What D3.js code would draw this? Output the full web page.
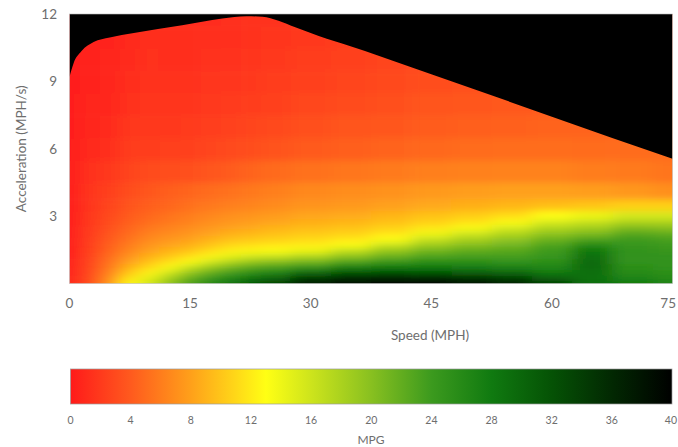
<!DOCTYPE html>
<html>
<head>
<meta charset="utf-8">
<script src="https://cdn.jsdelivr.net/npm/d3@7"></script>
<style>
    body { margin: 0; background: #fff; }
    svg { display: block; font-family: Lato, "Open Sans", sans-serif; }
    .tick-label { fill: #6e6e6e; }
</style>
</head>
<body>
<svg width="678" height="447"></svg>
<script>
// grid
var speeds = [0, 2.5, 5, 7.5, 10, 12.5, 15, 17.5, 20, 22.5, 25, 30, 35, 40, 45, 50, 55, 60, 65, 70, 75];
var accels = [0, 0.25, 0.5, 0.75, 1, 1.25, 1.5, 1.75, 2, 2.25, 2.5, 2.75, 3, 3.5, 4, 5, 6, 7, 8, 9, 10, 11, 12];

// mpg per speed column, one value per acceleration level
var mpgBySpeed = [
    [1, 0.8, 0.6, 0.5, 0.4, 0.3, 0.3, 0.2, 0.2, 0.2, 0.1, 0.1, 0.1, 0, 0, 0, 0, 0, 0, 0, 0, 0, 0],
    [3, 2.8, 2.7, 2.6, 2.5, 2.4, 2.3, 2.2, 2.1, 2, 2, 1.9, 1.8, 1.7, 1.6, 1.4, 1.1, 0.9, 0.7, 0.6, 0.5, 0.4, 0.4],
    [7.5, 6.8, 6.2, 5.7, 5.3, 4.9, 4.5, 4.2, 3.9, 3.6, 3.4, 3.2, 3, 2.6, 2.3, 1.8, 1.3, 1.1, 0.9, 0.8, 0.7, 0.6, 0.6],
    [13, 11.6, 10.2, 9, 8, 7.2, 6.5, 5.9, 5.4, 5, 4.7, 4.4, 4.1, 3.6, 3.2, 2.6, 2.1, 1.8, 1.5, 1.3, 1.1, 1, 0.9],
    [16, 14.8, 12.6, 11, 9.8, 8.8, 8, 7.3, 6.7, 6.2, 5.7, 5.2, 4.8, 4.2, 3.8, 3.1, 2.2, 1.9, 1.7, 1.5, 1.4, 1.3, 1.2],
    [20, 18.5, 16, 13.2, 11.3, 10, 9, 8.1, 7.4, 6.8, 6.3, 5.8, 5.4, 4.7, 4.2, 3.2, 2.3, 1.9, 1.7, 1.5, 1.3, 1.2, 1.1],
    [23.5, 22, 19.5, 16.5, 13, 11.2, 9.8, 8.8, 8, 7.4, 6.9, 6.4, 6, 5.3, 4.6, 3.4, 2.4, 2, 1.7, 1.5, 1.3, 1.2, 1.1],
    [26.5, 24.5, 22, 19, 15.5, 12.6, 11, 9.8, 8.9, 8.1, 7.5, 7, 6.5, 5.7, 5, 3.7, 2.6, 2.2, 1.8, 1.6, 1.4, 1.25, 1.15],
    [29, 26.5, 24, 21, 17.5, 14.3, 12.2, 10.8, 9.7, 8.8, 8.1, 7.5, 7, 6.1, 5.3, 4, 2.9, 2.4, 2, 1.7, 1.5, 1.3, 1.2],
    [31.5, 28.5, 25.5, 22.5, 19, 15.5, 12.6, 11.2, 10.1, 9.2, 8.5, 7.9, 7.3, 6.4, 5.7, 4.5, 3.2, 2.6, 2.2, 1.9, 1.6, 1.45, 1.35],
    [34, 30.5, 27, 23.5, 20, 16, 13, 11.6, 10.5, 9.7, 9, 8.3, 7.7, 6.8, 6.1, 4.9, 3.5, 2.9, 2.4, 2.1, 1.8, 1.6, 1.5],
    [37.5, 35, 30, 25, 21, 17.5, 13.8, 12, 11, 10.2, 9.5, 8.8, 8.3, 7.3, 6.6, 5.3, 4, 3.3, 2.8, 2.4, 2.1, 1.9, 1.8],
    [39, 37, 32, 27.5, 23, 19.5, 16.5, 13, 11.6, 10.7, 9.9, 9.2, 8.6, 7.6, 6.9, 5.6, 4.3, 3.6, 3.1, 2.7, 2.4, 2.2, 2.1],
    [39.5, 37.5, 32.5, 28, 24.5, 21.5, 19, 16, 13, 11.6, 10.6, 9.8, 9.1, 8, 7.2, 5.8, 4.5, 3.8, 3.3, 2.9, 2.6, 2.4, 2.3],
    [39.5, 37, 32, 28, 25.5, 23, 21, 18.5, 16.3, 13.8, 11.7, 10.6, 9.8, 8.5, 7.6, 6.1, 4.8, 4.1, 3.6, 3.2, 2.9, 2.7, 2.6],
    [38.5, 36, 31, 27.5, 25.5, 23.5, 22, 20, 18, 15.8, 13.3, 11.5, 10.4, 8.8, 7.8, 6.2, 5, 4.3, 3.8, 3.4, 3.1, 2.9, 2.8],
    [37, 34.5, 30, 27, 25, 23.5, 22.5, 21, 19.5, 17.5, 15.5, 13.2, 11.2, 9.2, 8, 6.3, 5.1, 4.4, 3.9, 3.5, 3.2, 3, 2.9],
    [34, 31, 28, 26.5, 25.5, 24.5, 24, 23, 21.5, 19.5, 17.5, 15.5, 13, 9.6, 8, 6.3, 5.1, 4.5, 4, 3.6, 3.3, 3.1, 3],
    [29, 29, 29, 29.5, 29.5, 29, 28, 26, 23, 20.5, 18.5, 16.5, 14, 10, 7.8, 6, 5, 4.5, 4, 3.6, 3.3, 3.1, 3],
    [28, 27, 26, 25.5, 25, 25, 25, 24.5, 24, 22.5, 20.5, 18, 15.5, 10.5, 7.5, 5.8, 5, 4.5, 4, 3.6, 3.3, 3.1, 3],
    [27, 26, 25.5, 25, 25, 25, 24.5, 24, 23.5, 22, 20, 18, 15.5, 10.5, 7, 5.5, 5, 4.5, 4, 3.6, 3.3, 3.1, 3]
];

// top edge of the operating region (max acceleration at each speed)
var envSpeed = [0, 0.5, 1.5, 3, 5, 8, 14, 19, 22, 24, 26, 28, 30, 32, 34, 45, 60, 75];
var envAccel = [9.2, 9.8, 10.35, 10.75, 10.95, 11.15, 11.5, 11.8, 11.9, 11.88, 11.7, 11.42, 11.15, 10.9, 10.68, 9.32, 7.43, 5.55];

var colorStops = [0, 4, 8, 11, 13, 16, 20, 24, 28, 32, 36, 40];
var colorValues = ["#ff1a1a", "#ff5a1e", "#ffa01a", "#ffd818", "#ffff14", "#cde41c",
    "#88c020", "#3c9a1e", "#107a10", "#055205", "#022802", "#000000"];

var xTicks = [0, 15, 30, 45, 60, 75];
var yTicks = [3, 6, 9, 12];
var mpgTicks = [0, 4, 8, 12, 16, 20, 24, 28, 32, 36, 40];

var svg = d3.select("svg");
var x = d3.scaleLinear().domain([0, 75]).range([69.5, 672.5]);
var y = d3.scaleLinear().domain([0, 12]).range([283.5, 14]);
var color = d3.scaleLinear().domain(colorStops).range(colorValues).clamp(true);

var defs = svg.append("defs");
defs.append("clipPath").attr("id", "plot-clip")
    .append("rect")
    .attr("x", x(0)).attr("y", y(12))
    .attr("width", x(75) - x(0)).attr("height", y(0) - y(12));

defs.append("filter").attr("id", "smooth")
    .attr("filterUnits", "userSpaceOnUse")
    .attr("x", 0).attr("y", 0).attr("width", 678).attr("height", 447)
    .append("feGaussianBlur").attr("stdDeviation", "9 3.5");

// cell edges halfway between grid points, outer cells pushed past the plot
function edges(vals, pad) {
    return vals.map(function (v, i) {
        var lo = i === 0 ? v - pad : (vals[i - 1] + v) / 2;
        var hi = i === vals.length - 1 ? v + pad : (v + vals[i + 1]) / 2;
        return [lo, hi];
    });
}

var xEdges = edges(speeds, 6);
var yEdges = edges(accels, 1);
var cells = [];
mpgBySpeed.forEach(function (col, i) {
    col.forEach(function (v, j) {
        cells.push({ xs: xEdges[i], ys: yEdges[j], mpg: v });
    });
});

var plot = svg.append("g").attr("clip-path", "url(#plot-clip)");

plot.append("g")
    .attr("filter", "url(#smooth)")
    .selectAll("rect")
    .data(cells)
    .enter().append("rect")
    .attr("x", function (d) { return x(d.xs[0]); })
    .attr("y", function (d) { return y(d.ys[1]); })
    .attr("width", function (d) { return x(d.xs[1]) - x(d.xs[0]) + 0.5; })
    .attr("height", function (d) { return y(d.ys[0]) - y(d.ys[1]) + 0.5; })
    .attr("fill", function (d) { return color(d.mpg); });

var envelope = d3.area()
    .x(function (d) { return x(d[0]); })
    .y0(y(12) - 2)
    .y1(function (d) { return y(d[1]); })
    .curve(d3.curveMonotoneX);

plot.append("path")
    .datum(envSpeed.map(function (s, i) { return [s, envAccel[i]]; }))
    .attr("d", envelope)
    .attr("fill", "#000");

svg.append("rect")
    .attr("x", x(0)).attr("y", y(12))
    .attr("width", x(75) - x(0)).attr("height", y(0) - y(12))
    .attr("fill", "none").attr("stroke", "#bdbdbd").attr("stroke-width", 0.6);

// axes
svg.append("g").selectAll("text")
    .data(xTicks)
    .enter().append("text")
    .attr("class", "tick-label")
    .attr("x", function (d) { return d === 75 ? 676 : x(d); })
    .attr("y", 308)
    .attr("text-anchor", function (d) { return d === 75 ? "end" : "middle"; })
    .attr("font-size", 13.5)
    .text(function (d) { return d; });

svg.append("g").selectAll("text")
    .data(yTicks)
    .enter().append("text")
    .attr("class", "tick-label")
    .attr("x", 57)
    .attr("y", function (d) { return y(d) + 5; })
    .attr("text-anchor", "end")
    .attr("font-size", 13.5)
    .text(function (d) { return d; });

svg.append("text")
    .attr("class", "tick-label")
    .attr("x", 430).attr("y", 340)
    .attr("text-anchor", "middle")
    .attr("font-size", 13.5)
    .text("Speed (MPH)");

svg.append("text")
    .attr("class", "tick-label")
    .attr("transform", "translate(26," + (y(6)) + ") rotate(-90)")
    .attr("text-anchor", "middle")
    .attr("font-size", 13.5)
    .text("Acceleration (MPH/s)");

// colour bar
var cb = d3.scaleLinear().domain([0, 40]).range([70.5, 672]);
var grad = defs.append("linearGradient").attr("id", "mpg-grad");
grad.selectAll("stop")
    .data(colorStops)
    .enter().append("stop")
    .attr("offset", function (d) { return d / 40; })
    .attr("stop-color", function (d) { return color(d); });

svg.append("rect")
    .attr("x", cb(0)).attr("y", 369)
    .attr("width", cb(40) - cb(0)).attr("height", 35)
    .attr("fill", "url(#mpg-grad)")
    .attr("stroke", "#9a9a9a").attr("stroke-width", 0.7);

svg.append("g").selectAll("text")
    .data(mpgTicks)
    .enter().append("text")
    .attr("class", "tick-label")
    .attr("x", function (d) { return d === 40 ? 677 : cb(d); })
    .attr("y", 424)
    .attr("text-anchor", function (d) { return d === 40 ? "end" : "middle"; })
    .attr("font-size", 10.5)
    .text(function (d) { return d; });

svg.append("text")
    .attr("class", "tick-label")
    .attr("x", 371).attr("y", 444)
    .attr("text-anchor", "middle")
    .attr("font-size", 12)
    .text("MPG");
</script>
</body>
</html>
